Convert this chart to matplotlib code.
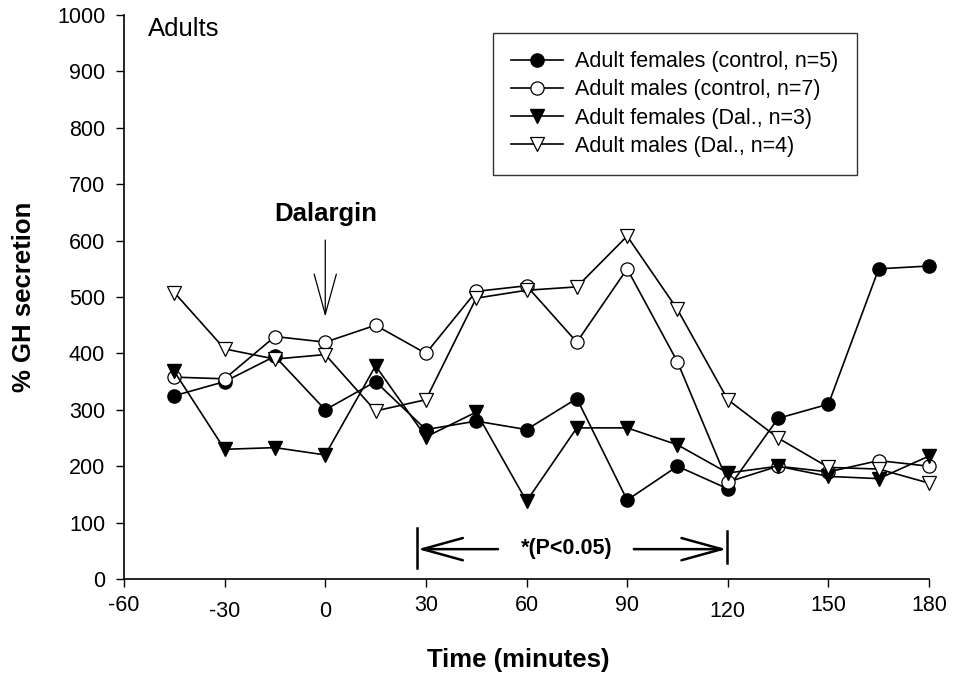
import matplotlib
matplotlib.use("Agg")
import matplotlib.pyplot as plt

plt.rcParams['font.family'] = ['Liberation Sans', 'DejaVu Sans']

time = [-45, -30, -15, 0, 15, 30, 45, 60, 75, 90, 105, 120, 135, 150, 165, 180]
fem_ctrl = [325, 350, 395, 300, 350, 265, 280, 265, 320, 140, 200, 160, 285, 310, 550, 555]
male_ctrl = [358, 355, 430, 420, 450, 400, 510, 520, 420, 550, 385, 172, 200, 190, 210, 200]
fem_dal = [368, 230, 233, 220, 378, 252, 296, 138, 268, 268, 238, 188, 200, 182, 178, 218]
male_dal = [508, 408, 390, 398, 298, 318, 498, 512, 518, 608, 478, 318, 250, 198, 195, 170]

labels = ["Adult females (control, n=5)", "Adult males (control, n=7)",
          "Adult females (Dal., n=3)", "Adult males (Dal., n=4)"]
xticks = [-60, -30, 0, 30, 60, 90, 120, 150, 180]
yticks = list(range(0, 1001, 100))

fig = plt.figure(figsize=(9.56, 6.74), dpi=100)
ax = fig.add_axes([0.1297, 0.1409, 0.8421, 0.8368])

lw = 1.2
common = dict(color='black', lw=lw, clip_on=False, zorder=3)
ax.plot(time, fem_ctrl, '-', marker='o', ms=9.5, mfc='black', mec='black',
        label=labels[0], **common)
ax.plot(time, male_ctrl, '-', marker='o', ms=9.5, mfc='white', mec='black', mew=0.9,
        label=labels[1], **common)
ax.plot(time, fem_dal, '-', marker='v', ms=10.5, mfc='black', mec='black',
        label=labels[2], **common)
ax.plot(time, male_dal, '-', marker='v', ms=10.5, mfc='white', mec='black', mew=0.9,
        label=labels[3], **common)

ax.set_xlim(-60, 180)
ax.set_ylim(0, 1000)
ax.set_xticks(xticks)
ax.set_xticklabels([str(v) for v in xticks])
ax.set_yticks(yticks)
ax.tick_params(axis='both', direction='out', length=5.5, width=1, labelsize=15.5)
ax.tick_params(axis='y', pad=8)
# staggered tick labels as in the reference
for i, t in enumerate(ax.xaxis.get_major_ticks()):
    if xticks[i] in (-30, 0, 120):
        t.set_pad(10)
    else:
        t.set_pad(6)

for s in ['top', 'right']:
    ax.spines[s].set_visible(False)
for s in ['left', 'bottom']:
    ax.spines[s].set_linewidth(1.2)

ax.set_xlabel('Time (minutes)', fontsize=18.5, fontweight='bold')
ax.set_ylabel('% GH secretion', fontsize=18.5, fontweight='bold')
ax.xaxis.set_label_coords(0.49, -0.122)
ax.yaxis.set_label_coords(-0.109, 0.5)

ax.text(-53, 975, 'Adults', fontsize=18.5, va='center', ha='left')

# Dalargin arrow
ax.text(0, 647, 'Dalargin', fontsize=18.5, fontweight='bold', ha='center', va='center')
ax.annotate('', xy=(0, 465), xytext=(0, 601),
            arrowprops=dict(arrowstyle='->,head_length=1.45,head_width=0.4',
                            color='black', lw=0.9, mutation_scale=20,
                            shrinkA=0, shrinkB=0))

# significance bracket
ax.plot([27.4, 27.4], [20, 90], color='black', lw=1.8)
ax.plot([119.8, 119.8], [28, 85], color='black', lw=1.8)
ax.annotate('', xy=(27.6, 53), xytext=(51.5, 53),
            arrowprops=dict(arrowstyle='->,head_length=1.45,head_width=0.4',
                            color='black', lw=1.8, mutation_scale=20,
                            shrinkA=0, shrinkB=0))
ax.annotate('', xy=(119.6, 53), xytext=(92, 53),
            arrowprops=dict(arrowstyle='->,head_length=1.45,head_width=0.4',
                            color='black', lw=1.8, mutation_scale=20,
                            shrinkA=0, shrinkB=0))
ax.text(72, 55, '*(P<0.05)', fontsize=15.5, fontweight='bold', ha='center', va='center')

leg = ax.legend(loc='upper left', bbox_to_anchor=(0.4584, 0.9681), fontsize=15.5,
                frameon=True, fancybox=False, edgecolor='black', handlelength=2.42,
                borderpad=0.85, labelspacing=0.33, handletextpad=0.56, borderaxespad=0)
leg.get_frame().set_linewidth(1.0)

fig.savefig('out.png', dpi=100)
